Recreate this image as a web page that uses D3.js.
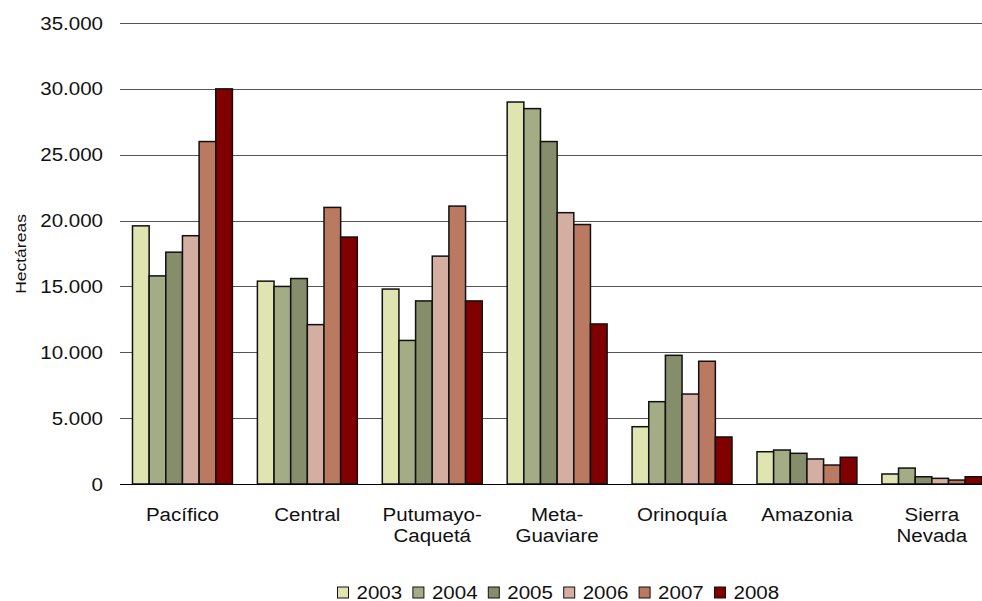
<!DOCTYPE html>
<html>
<head>
<meta charset="utf-8">
<script src="https://cdn.jsdelivr.net/npm/d3@7/dist/d3.min.js"></script>
<style>
  html, body { margin: 0; padding: 0; background: #fff; }
  svg { display: block; font-family: "Liberation Sans", Arial, sans-serif; }
</style>
</head>
<body>
<svg id="chart" width="982" height="601"></svg>
<script>
// datos: hectáreas por región y año
const regions = ["Pacífico", "Central", "Putumayo-\nCaquetá", "Meta-\nGuaviare", "Orinoquía", "Amazonia", "Sierra\nNevada"];
const years = ["2003", "2004", "2005", "2006", "2007", "2008"];
const v2003 = [19600, 15400, 14800, 29000, 4350, 2450, 760];
const v2004 = [15800, 15000, 10900, 28500, 6250, 2580, 1210];
const v2005 = [17600, 15600, 13900, 26000, 9770, 2330, 550];
const v2006 = [18850, 12100, 17300, 20600, 6830, 1900, 430];
const v2007 = [26000, 21000, 21100, 19700, 9320, 1440, 300];
const v2008 = [30000, 18750, 13900, 12150, 3570, 2030, 550];
const yTicks = [0, 5000, 10000, 15000, 20000, 25000, 30000, 35000];
const colors = ["#E0E4B0", "#A3AC85", "#868D6A", "#D3AEA1", "#BA7961", "#800000"];

const series = [v2003, v2004, v2005, v2006, v2007, v2008];
const rows = regions.map((r, i) => ({ region: r, values: years.map((y, j) => ({ year: y, value: series[j][i] })) }));

const svg = d3.select("#chart");
const W = 982;

// el gráfico original está estirado en horizontal
function stretch(sel, k) {
  sel.each(function () {
    const w = this.getComputedTextLength();
    d3.select(this).attr("textLength", w * k).attr("lengthAdjust", "spacingAndGlyphs");
  });
}

const x0 = d3.scaleBand().domain(regions).range([120, 994.3]).paddingInner(0.2).paddingOuter(0.1);
const x1 = d3.scaleBand().domain(years).range([0, x0.bandwidth()]);
const y = d3.scaleLinear().domain([0, 35000]).range([484, 23]);
const color = d3.scaleOrdinal().domain(years).range(colors);
const fmt = d => d3.format(",")(d).replace(/,/g, ".");

// líneas de cuadrícula
svg.append("g")
  .selectAll("line")
  .data(yTicks.filter(d => d > 0))
  .join("line")
  .attr("x1", 120).attr("x2", W)
  .attr("y1", d => Math.round(y(d)) + 0.5).attr("y2", d => Math.round(y(d)) + 0.5)
  .attr("stroke", "#555").attr("stroke-width", 1);

// barras
const groups = svg.append("g")
  .selectAll("g")
  .data(rows)
  .join("g")
  .attr("transform", d => `translate(${x0(d.region)},0)`);

groups.selectAll("rect")
  .data(d => d.values)
  .join("rect")
  .attr("x", d => x1(d.year))
  .attr("y", d => y(d.value))
  .attr("width", x1.bandwidth())
  .attr("height", d => y(0) - y(d.value))
  .attr("fill", d => color(d.year))
  .attr("stroke", "#111")
  .attr("stroke-width", 1.5);

// eje base
svg.append("line")
  .attr("x1", 120).attr("x2", W)
  .attr("y1", 484.5).attr("y2", 484.5)
  .attr("stroke", "#000").attr("stroke-width", 1.2);

// etiquetas del eje Y
const yl = svg.append("g")
  .selectAll("text")
  .data(yTicks)
  .join("text")
  .attr("x", 103)
  .attr("y", d => y(d) + 6.5)
  .attr("text-anchor", "end")
  .attr("font-size", 18)
  .attr("fill", "#111")
  .text(fmt);
stretch(yl, 1.14);

// título del eje Y
const yt = svg.append("text")
  .attr("transform", "translate(26,254) rotate(-90)")
  .attr("text-anchor", "middle")
  .attr("font-size", 14)
  .attr("fill", "#111")
  .text("Hectáreas");
stretch(yt, 1.25);

// etiquetas de categorías
const cl = svg.append("g")
  .selectAll("text")
  .data(regions)
  .join("text")
  .attr("text-anchor", "middle")
  .attr("font-size", 18)
  .attr("fill", "#111");
cl.selectAll("tspan")
  .data(d => d.split("\n").map(s => ({ s, r: d })))
  .join("tspan")
  .attr("x", d => x0(d.r) + x0.bandwidth() / 2)
  .attr("y", (d, i) => 521 + i * 20.8)
  .text(d => d.s);
stretch(cl.selectAll("tspan"), 1.14);

// leyenda
const leg = svg.append("g")
  .selectAll("g")
  .data(years)
  .join("g")
  .attr("transform", (d, i) => `translate(${337.5 + i * 75.4},587)`);
leg.append("rect")
  .attr("width", 11).attr("height", 11)
  .attr("fill", d => color(d))
  .attr("stroke", "#111").attr("stroke-width", 1);
const lt = leg.append("text")
  .attr("x", 19).attr("y", 11.5)
  .attr("font-size", 18)
  .attr("fill", "#111")
  .text(d => d);
stretch(lt, 1.14);
</script>
</body>
</html>
